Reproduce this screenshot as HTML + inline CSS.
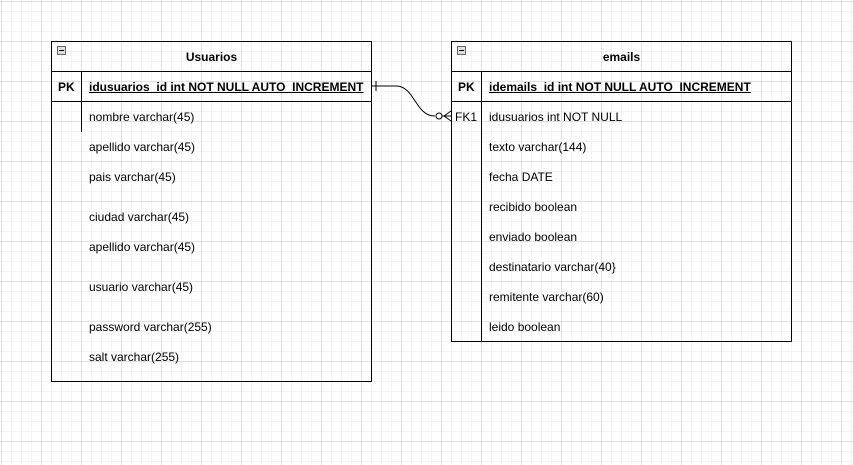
<!DOCTYPE html>
<html><head><style>
body{margin:0;width:853px;height:465px;overflow:hidden;font-family:"Liberation Sans",sans-serif;font-size:12px;color:#000;
background-color:#fff;
background-image:linear-gradient(#e0e0e0 1px,transparent 1px),linear-gradient(90deg,#e0e0e0 1px,transparent 1px),linear-gradient(#f3f3f3 1px,transparent 1px),linear-gradient(90deg,#f3f3f3 1px,transparent 1px);
background-size:40px 40px,40px 40px,10px 10px,10px 10px;background-position:0 1px,1px 0,0 1px,1px 0;}
.t{position:absolute;border:1px solid #000;background:transparent;}
.h{position:absolute;left:0;right:0;top:0;height:29px;border-bottom:1px solid #000;text-align:center;font-weight:bold;line-height:30px;}
.pk{position:absolute;left:0;right:0;top:30px;height:29px;border-bottom:1px solid #000;font-weight:bold;line-height:30px;}
.m{position:absolute;left:5px;top:4px;width:7px;height:7px;border:1px solid #666;background:#ddd;}
.m:after{content:"";position:absolute;left:1px;top:3px;width:5px;height:1px;background:#000;}
.x{position:absolute;white-space:nowrap;line-height:14px;}
</style></head><body>
<div class="t" style="left:51px;top:41px;width:319px;height:339px;">
<div class="m"></div><div class="h">Usuarios</div>
<div class="pk"><span style="position:absolute;left:6px">PK</span><span style="position:absolute;left:37px;text-decoration:underline">idusuarios_id int NOT NULL AUTO_INCREMENT</span></div>
<div style="position:absolute;left:29px;top:30px;width:1px;height:60px;background:#000"></div>
<div class="x" style="left:37px;top:68px">nombre varchar(45)</div>
<div class="x" style="left:37px;top:98px">apellido varchar(45)</div>
<div class="x" style="left:37px;top:128px">pais varchar(45)</div>
<div class="x" style="left:37px;top:168px">ciudad varchar(45)</div>
<div class="x" style="left:37px;top:198px">apellido varchar(45)</div>
<div class="x" style="left:37px;top:238px">usuario varchar(45)</div>
<div class="x" style="left:37px;top:278px">password varchar(255)</div>
<div class="x" style="left:37px;top:308px">salt varchar(255)</div>
</div>
<div class="t" style="left:451px;top:41px;width:339px;height:299px;">
<div class="m"></div><div class="h">emails</div>
<div class="pk"><span style="position:absolute;left:6px">PK</span><span style="position:absolute;left:37px;text-decoration:underline">idemails_id int NOT NULL AUTO_INCREMENT</span></div>
<div style="position:absolute;left:29px;top:30px;width:1px;height:269px;background:#000"></div>
<div class="x" style="left:3px;top:68px">FK1</div>
<div class="x" style="left:37px;top:68px">idusuarios int NOT NULL</div>
<div class="x" style="left:37px;top:98px">texto varchar(144)</div>
<div class="x" style="left:37px;top:128px">fecha DATE</div>
<div class="x" style="left:37px;top:158px">recibido boolean</div>
<div class="x" style="left:37px;top:188px">enviado boolean</div>
<div class="x" style="left:37px;top:218px">destinatario varchar(40}</div>
<div class="x" style="left:37px;top:248px">remitente varchar(60)</div>
<div class="x" style="left:37px;top:278px">leido boolean</div>
</div>
<svg style="position:absolute;left:0;top:0" width="853" height="465">
<path d="M371,86 H396 C415,86 415,116 435,116" fill="none" stroke="#000" stroke-width="1"/>
<line x1="376" y1="81" x2="376" y2="91" stroke="#000"/>
<circle cx="439" cy="116" r="3" fill="#fff" stroke="#000"/>
<line x1="442" y1="116" x2="451" y2="116" stroke="#000"/>
<line x1="444" y1="116" x2="451" y2="111" stroke="#000"/>
<line x1="444" y1="116" x2="451" y2="121" stroke="#000"/>
</svg>
</body></html>
